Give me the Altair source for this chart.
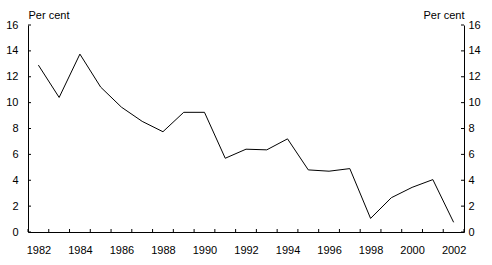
import altair as alt
import pandas as pd

years = list(range(1982, 2003))
values = [12.9, 10.4, 13.75, 11.2, 9.65, 8.55, 7.75, 9.25, 9.25, 5.7, 6.4, 6.35,
          7.2, 4.8, 4.7, 4.9, 1.05, 2.65, 3.45, 4.05, 0.75]
y_ticks = [0, 2, 4, 6, 8, 10, 12, 14, 16]
x_labels = [y for y in years if y % 2 == 0]
x_bounds = [y - 0.5 for y in years] + [years[-1] + 0.5]

W, H = 436, 207
FONT = "Liberation Sans"

df = pd.DataFrame({"year": years, "value": values})
ydf = pd.DataFrame({"v": y_ticks})
xdf = pd.DataFrame({"b": x_bounds})

xscale = alt.Scale(domain=[1981.5, 2002.5], nice=False, zero=False)
yscale = alt.Scale(domain=[0, 16], nice=False)

xaxis = alt.Axis(values=x_labels, format="d", title=None, ticks=False,
                 labelPadding=12, domainColor="black", domainWidth=1,
                 grid=False, labelFont=FONT, labelFontSize=11,
                 labelColor="black")
yaxis_left = alt.Axis(orient="left", values=y_ticks, ticks=False, grid=False,
                      labelPadding=10, domainColor="black", labelFont=FONT,
                      labelFontSize=11, labelColor="black",
                      title="Per cent", titleAngle=0, titleAlign="left",
                      titleBaseline="alphabetic", titleX=0, titleY=-7,
                      titleFont=FONT, titleFontSize=11, titleFontWeight="normal",
                      titleColor="black")
yaxis_right = alt.Axis(orient="right", values=y_ticks, ticks=False, grid=False,
                       labelPadding=4, domainColor="black", labelFont=FONT,
                       labelFontSize=11, labelColor="black",
                       title="Per cent", titleAngle=0, titleAlign="right",
                       titleBaseline="alphabetic", titleX=0, titleY=-7,
                       titleFont=FONT, titleFontSize=11, titleFontWeight="normal",
                       titleColor="black")

line = alt.Chart(df).mark_line(color="black", strokeWidth=1).encode(
    x=alt.X("year:Q", scale=xscale, axis=xaxis),
    y=alt.Y("value:Q", scale=yscale, axis=yaxis_left),
)

right = alt.Chart(ydf).mark_rule(color="black", strokeWidth=1).encode(
    y=alt.Y("v:Q", scale=yscale, axis=yaxis_right),
    x=alt.value(W - 3), x2=alt.value(W),
)

left_ticks = alt.Chart(ydf).mark_rule(color="black", strokeWidth=1).encode(
    y=alt.Y("v:Q", scale=yscale, axis=None),
    x=alt.value(0), x2=alt.value(3),
)

bottom_ticks = alt.Chart(xdf).mark_rule(color="black", strokeWidth=1).encode(
    x=alt.X("b:Q", scale=xscale, axis=xaxis),
    y=alt.value(H - 3), y2=alt.value(H),
)

chart = alt.layer(line, left_ticks, bottom_ticks, right).resolve_axis(
    y="independent"
).properties(
    width=W, height=H,
    autosize=alt.AutoSizeParams(type="none"),
    padding={"left": 28, "top": 25, "right": 28, "bottom": 33},
    background="white",
).configure_view(stroke=None)

chart.save("out.html", embed_options={"renderer": "svg", "actions": False})
